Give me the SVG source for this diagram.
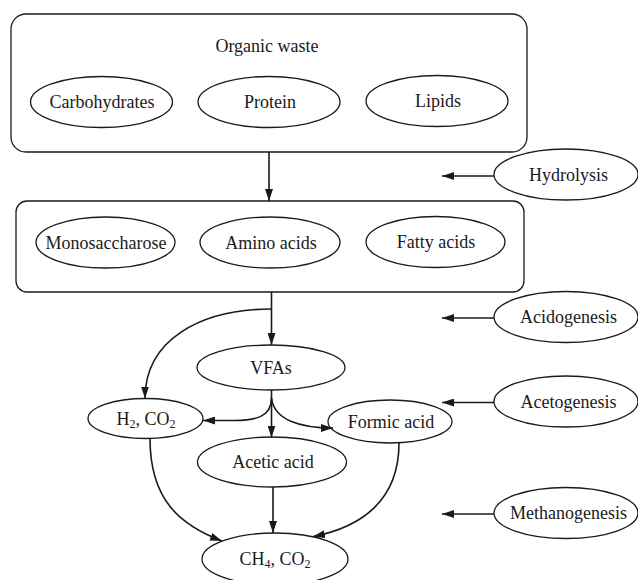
<svg xmlns="http://www.w3.org/2000/svg" width="638" height="580" viewBox="0 0 638 580">
<style>
.box{fill:#fff;stroke:#1a1a1a;stroke-width:1.3}
.el{fill:#fff;stroke:#1a1a1a;stroke-width:1.3}
.t{font-family:"Liberation Serif","Times New Roman",serif;font-size:18px;fill:#1a1a1a;text-anchor:middle}
.sub{font-size:12px}
.c{fill:none;stroke:#1a1a1a;stroke-width:1.6}
</style>
<defs>
<marker id="ah" markerUnits="userSpaceOnUse" markerWidth="12" markerHeight="8" refX="12" refY="4" orient="auto">
<path d="M0,0 L12,4 L0,8 z" fill="#1a1a1a"/>
</marker>
</defs>
<rect width="638" height="580" fill="#fff"/>
<g id="organic-waste">
<rect class="box" x="11" y="14" width="516" height="138" rx="15"/>
<text class="t" x="267" y="52">Organic waste</text>
</g>
<g id="carbohydrates"><ellipse class="el" cx="101.5" cy="102" rx="71" ry="25.5"/><text class="t" x="102" y="108">Carbohydrates</text></g>
<g id="protein"><ellipse class="el" cx="269" cy="102" rx="71" ry="25.5"/><text class="t" x="270" y="108">Protein</text></g>
<g id="lipids"><ellipse class="el" cx="437" cy="101" rx="71" ry="25.5"/><text class="t" x="438" y="107">Lipids</text></g>
<g id="hydrolysis-products">
<rect class="box" x="16" y="201" width="508" height="91" rx="11"/>
</g>
<g id="monosaccharose"><ellipse class="el" cx="105.5" cy="242.5" rx="69.5" ry="25.5"/><text class="t" x="106" y="248.5">Monosaccharose</text></g>
<g id="amino-acids"><ellipse class="el" cx="270" cy="242.5" rx="70" ry="25.5"/><text class="t" x="271" y="248.5">Amino acids</text></g>
<g id="fatty-acids"><ellipse class="el" cx="435.5" cy="242" rx="69.5" ry="25.5"/><text class="t" x="436" y="248">Fatty acids</text></g>
<g id="vfas"><ellipse class="el" cx="271" cy="367.5" rx="74" ry="22.5"/><text class="t" x="271" y="373.5">VFAs</text></g>
<g id="h2-co2"><ellipse class="el" cx="145.5" cy="418.5" rx="57.5" ry="20"/><text class="t" x="146" y="424.5">H<tspan class="sub" dy="3">2</tspan><tspan dy="-3">, CO</tspan><tspan class="sub" dy="3">2</tspan></text></g>
<g id="formic-acid"><ellipse class="el" cx="390" cy="421.5" rx="62" ry="21.5"/><text class="t" x="391" y="427.5">Formic acid</text></g>
<g id="acetic-acid"><ellipse class="el" cx="272" cy="462" rx="74.5" ry="25"/><text class="t" x="273" y="468">Acetic acid</text></g>
<g id="ch4-co2"><ellipse class="el" cx="275" cy="559" rx="73" ry="26"/><text class="t" x="275" y="565">CH<tspan class="sub" dy="3">4</tspan><tspan dy="-3">, CO</tspan><tspan class="sub" dy="3">2</tspan></text></g>
<g id="hydrolysis"><ellipse class="el" cx="566" cy="174.5" rx="72" ry="25.5"/><text class="t" x="568.5" y="181">Hydrolysis</text></g>
<g id="acidogenesis"><ellipse class="el" cx="566" cy="317" rx="72" ry="25.5"/><text class="t" x="568.5" y="323">Acidogenesis</text></g>
<g id="acetogenesis"><ellipse class="el" cx="566" cy="401.5" rx="72" ry="25.5"/><text class="t" x="568.5" y="407.5">Acetogenesis</text></g>
<g id="methanogenesis"><ellipse class="el" cx="566" cy="513" rx="72" ry="25.5"/><text class="t" x="568.5" y="519">Methanogenesis</text></g>
<g id="connectors">
<path class="c" d="M269,152 L269,201" marker-end="url(#ah)"/>
<path class="c" d="M271.5,292 L271.5,345" marker-end="url(#ah)"/>
<path class="c" d="M271.5,309 C200,309 145,340 145,398.5" marker-end="url(#ah)"/>
<path class="c" d="M271.5,390 L271.5,437.5" marker-end="url(#ah)"/>
<path class="c" d="M271.5,398 C271.5,417 255,420.5 235,420.5 L203,420.5" marker-end="url(#ah)"/>
<path class="c" d="M271.5,398 C274,420 300,428 333,428" marker-end="url(#ah)"/>
<path class="c" d="M150,438.5 C150,500 180,525 222,541" marker-end="url(#ah)"/>
<path class="c" d="M273,487 L273,533" marker-end="url(#ah)"/>
<path class="c" d="M399,443 C399,500 362,527 313,536.5" marker-end="url(#ah)"/>
<path class="c" d="M494,176 L442,176" marker-end="url(#ah)"/>
<path class="c" d="M494,318 L442,318" marker-end="url(#ah)"/>
<path class="c" d="M494,402.5 L442,402.5" marker-end="url(#ah)"/>
<path class="c" d="M494,514 L442,514" marker-end="url(#ah)"/>
</g>
</svg>
